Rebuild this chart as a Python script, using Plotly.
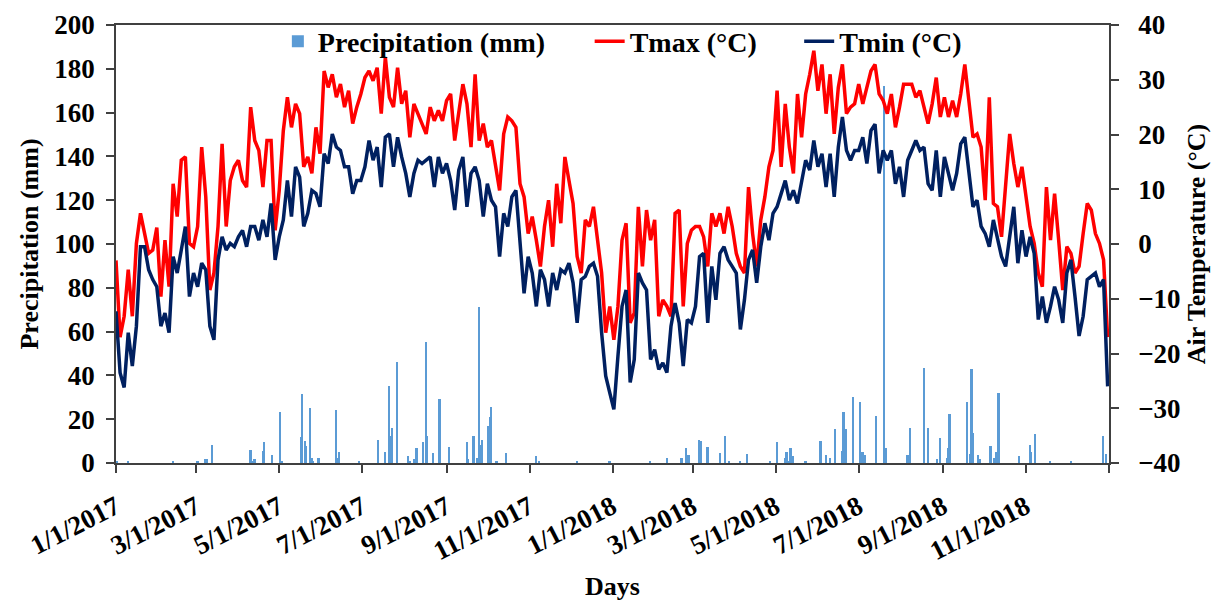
import pandas as pd
import plotly.graph_objects as go

# ---- daily air temperature, sampled every third day (°C) ----
temp_dates = pd.date_range("2017-01-01", "2018-12-31", freq="3D")

tmax = [
    -3.0, -17.0, -13.2, -4.7, -13.2, 0.1, 5.6, 1.9, -1.7, -1.1,
    3.0, -9.6, 0.7, -7.8, 11.0, 5.0, 15.3, 15.9, 0.1, -0.5,
    3.2, 17.7, 8.6, -8.4, -5.3, 3.2, 18.3, 3.2, 11.6, 14.1,
    15.3, 11.6, 10.4, 25.0, 18.9, 17.1, 10.4, 18.9, 18.9, 2.5,
    9.8, 20.7, 26.8, 21.3, 25.6, 23.8, 14.1, 15.9, 12.9, 21.3,
    16.5, 31.6, 28.6, 31.0, 26.8, 29.2, 25.0, 28.0, 22.0, 25.0,
    27.4, 30.4, 31.6, 29.8, 32.2, 23.8, 34.1, 26.8, 25.0, 32.2,
    25.6, 28.0, 19.5, 25.6, 23.8, 22.0, 20.1, 25.0, 22.5, 24.4,
    22.5, 26.2, 27.4, 18.9, 24.4, 29.2, 25.6, 17.7, 31.0, 18.9,
    22.0, 17.7, 18.9, 14.1, 9.8, 20.1, 23.2, 22.5, 21.3, 11.0,
    8.6, 1.9, 5.0, 0.7, -4.1, 3.2, 8.0, -0.5, 11.0, 3.8,
    15.9, 11.6, 7.4, -2.3, -5.3, 4.4, 3.2, 6.8, 0.1, -5.3,
    -16.2,
    -11.4, -17.5, -11.4, 0.7, 3.8, -14.4, -12.6, 6.8, -4.1, 6.2,
    0.7, 4.4, -13.2, -10.2, -11.4, -13.2, 5.6, 6.2, -11.4, 0.1,
    2.5, 3.2, 3.2, 1.3, -4.1, 5.6, 3.2, 5.6, 1.9, 6.8,
    3.2, -1.7, -4.1, -5.3, 10.4, 1.9, -4.1, 4.4, 8.6, 14.1,
    17.1, 28.0, 14.1, 25.6, 17.7, 12.9, 27.4, 19.5, 27.4, 31.0,
    35.3, 28.0, 32.8, 23.8, 31.0, 20.1, 28.6, 32.8, 23.8, 25.0,
    25.6,
    29.2, 25.6, 28.6, 31.6, 32.8, 27.4, 26.2, 23.8, 27.4, 21.3,
    25.0, 29.2, 29.2, 29.2, 26.8, 28.0, 25.0, 22.0, 25.6, 30.4,
    23.2, 26.8, 23.2, 26.2, 23.2, 27.4, 32.8, 25.6, 19.5, 20.1,
    17.7, 8.0, 26.8, 7.4, 6.8, 1.3, 11.6, 20.1, 14.7, 10.4,
    14.1, 8.0, 3.2, 0.1, -5.3, -7.8, 10.4, 0.7, 9.2, 0.7,
    -8.4, -0.5, -1.7, -5.3, -4.1, 1.9, 7.4, 6.2, 1.9, 0.1,
    -2.9, -17.0,
]

tmin = [
    -12.3, -23.5, -26.2, -16.2, -22.3, -15.0, -0.5, -0.5, -4.7, -6.5,
    -7.8, -15.0, -12.6, -16.2, -2.3, -5.3, -1.1, 3.2, -9.6, -5.3,
    -7.8, -3.5, -4.7, -15.0, -17.5, -2.9, 1.3, -1.1, 0.1, -0.5,
    1.3, 2.5, -0.5, 3.2, 3.2, 0.7, 4.4, 1.3, 7.4, -2.9,
    1.3, 4.4, 11.6, 5.0, 14.1, 12.2, 3.2, 5.6, 9.8, 9.2,
    6.8, 16.5, 14.7, 20.1, 17.7, 17.1, 14.1, 14.1, 9.2, 11.6,
    11.6, 14.1, 18.9, 15.3, 17.7, 10.4, 19.5, 20.1, 14.1, 19.5,
    15.9, 12.9, 8.6, 12.9, 15.3, 14.7, 15.3, 15.9, 10.4, 15.9,
    12.9, 14.7, 11.6, 6.2, 13.5, 15.9, 6.8, 12.9, 14.1, 11.6,
    5.0, 11.0, 8.0, 6.8, -2.3, 5.6, 3.2, 8.6, 9.8, 0.7,
    -9.0, -2.3, -5.3, -11.4, -4.7, -6.5, -11.4, -5.3, -8.4, -4.7,
    -5.3, -3.5, -7.1, -14.4, -6.5, -5.9, -4.1, -3.5, -5.9, -16.2,
    -24.1,
    -27.2, -30.2, -20.5, -11.4, -8.4, -25.3, -21.1, -5.3, -7.1, -8.4,
    -21.1, -19.3, -22.9, -21.7, -23.5, -15.0, -10.8, -14.4, -22.3, -13.8,
    -14.4, -11.4, -2.3, -1.7, -14.4, -4.1, -10.2, -1.7, -0.5, -2.9,
    -4.1, -5.3, -15.6, -10.2, -2.9, -1.1, -7.1, -0.5, 3.8, 0.7,
    5.6, 6.8, 9.2, 11.6, 8.0, 9.8, 7.4, 11.6, 15.3, 13.5,
    18.9, 14.1, 16.5, 10.4, 16.5, 8.6, 17.7, 23.2, 17.1, 15.3,
    17.1,
    17.1, 19.5, 14.7, 20.7, 21.9, 12.9, 17.1, 15.3, 17.1, 11.0,
    14.1, 8.6, 15.3, 17.1, 18.9, 17.1, 17.7, 11.0, 9.8, 17.1,
    8.6, 15.9, 12.9, 9.8, 12.9, 18.3, 19.5, 12.9, 6.8, 8.0,
    3.2, 1.9, -0.5, 4.4, 0.7, -2.3, -4.1, 1.9, 6.8, -3.5,
    2.5, -2.3, 1.3, -1.7, -13.8, -9.6, -14.4, -11.4, -7.8, -10.2,
    -14.4, -5.3, -2.9, -9.6, -16.8, -13.2, -6.5, -5.9, -5.3, -7.8,
    -6.5, -26.0,
]

# ---- rain days: day number counted from 1 Jan 2017, amount in mm ----
rain_day = [
    1, 9, 42, 60, 66, 67, 71, 99, 101, 102,
    108, 109, 115, 121, 122, 136, 137, 139, 140, 143,
    144, 145, 149, 162, 163, 164, 179, 193, 198, 201,
    202, 203, 207, 215, 216, 219, 221, 226, 228, 229,
    233, 238, 245, 258, 259, 263, 266, 267, 268, 269,
    274, 275, 276, 280, 287, 309, 311, 339,
    363, 393, 405, 416, 419, 421, 429, 430, 435, 444,
    448, 451, 459, 464, 481, 486, 492, 493, 495, 496,
    498, 507, 518, 522, 525, 529, 534, 535, 537, 542,
    547, 548, 549, 551, 559, 565, 566, 582, 584, 594,
    597, 604, 606, 611, 612, 613, 626, 628, 629, 630,
    634, 635, 643, 646, 647, 649, 664, 672, 673, 676,
    687, 702, 726, 728,
]
rain_mm = [
    1.0, 0.7, 1.0, 0.7, 2.0, 2.0, 8.2, 6.0, 1.0, 1.8,
    5.5, 9.4, 3.6, 23.5, 0.7, 12.0, 31.7, 10.0, 7.9, 25.3,
    2.3, 0.7, 2.3, 24.2, 2.3, 5.0, 0.7, 10.5, 5.0, 35.3,
    12.4, 16.2, 45.9, 3.0, 0.7, 2.0, 6.8, 9.6, 55.4, 12.2,
    4.5, 29.0, 7.1, 9.6, 2.0, 12.4, 2.3, 71.4, 8.4, 10.3,
    17.0, 20.9, 25.8, 1.0, 4.5, 3.0, 1.0, 1.0,
    1.0, 1.0, 2.3, 2.3, 6.8, 3.5, 10.3, 10.0, 7.1, 4.5,
    12.2, 0.7, 0.7, 4.1, 1.0, 9.6, 2.3, 5.0, 1.0, 6.8,
    3.0, 1.0, 10.0, 3.6, 2.3, 15.7, 5.5, 23.5, 15.7, 30.0,
    27.9, 2.0, 5.0, 3.6, 21.6, 172.0, 6.8, 3.6, 16.2, 43.3,
    16.2, 2.0, 11.4, 2.3, 6.8, 22.6, 27.9, 4.1, 42.9, 13.6,
    3.6, 2.0, 7.6, 2.3, 5.0, 32.1, 3.0, 8.2, 5.0, 13.3,
    1.0, 1.0, 12.2, 4.1,
]
rain_dates = pd.Timestamp("2017-01-01") + pd.to_timedelta(rain_day, unit="D")

# ---- date axis ticks (every second month) ----
tick_dates = [
    "2017-01-01", "2017-03-01", "2017-05-01", "2017-07-01", "2017-09-01",
    "2017-11-01", "2018-01-01", "2018-03-01", "2018-05-01", "2018-07-01",
    "2018-09-01", "2018-11-01", "2019-01-01",
]
tick_labels = [
    "1/1/2017", "3/1/2017", "5/1/2017", "7/1/2017", "9/1/2017",
    "11/1/2017", "1/1/2018", "3/1/2018", "5/1/2018", "7/1/2018",
    "9/1/2018", "11/1/2018", "",
]

FONT = "Liberation Serif"
AXIS_COLOR = "#404040"
DAY_MS = 86400000
TXT = dict(family=FONT, size=26, color="black", weight="bold")
TICK_TXT = dict(family=FONT, size=27, color="black", weight="bold")
LEG_TXT = dict(family=FONT, size=28, color="black", weight="bold")

fig = go.Figure()

fig.add_trace(go.Bar(
    x=rain_dates, y=rain_mm, name="Precipitation (mm)",
    marker=dict(color="#5B9BD5", line=dict(width=0)),
    width=DAY_MS * 1.3, yaxis="y", legend="legend", showlegend=True,
))
fig.add_trace(go.Scatter(
    x=temp_dates, y=tmax, name="Tmax (°C)", mode="lines",
    line=dict(color="#FF0000", width=3.5), yaxis="y2",
    legend="legend2", showlegend=True,
))
fig.add_trace(go.Scatter(
    x=temp_dates, y=tmin, name="Tmin (°C)", mode="lines",
    line=dict(color="#002060", width=3.5), yaxis="y2",
    legend="legend3", showlegend=True,
))

# one legend box per entry so each key sits where it belongs along the top
legend_common = dict(
    orientation="h", xref="paper", yref="paper",
    xanchor="left", yanchor="middle", y=0.962,
    bgcolor="rgba(0,0,0,0)", borderwidth=0, font=LEG_TXT,
    itemclick=False, itemdoubleclick=False,
)

fig.update_layout(
    width=1211, height=602,
    margin=dict(l=116, r=102, t=25, b=139, autoexpand=False),
    paper_bgcolor="white", plot_bgcolor="white",
    font=TXT, showlegend=True, bargap=0,
    legend=dict(legend_common, x=0.163),
    legend2=dict(legend_common, x=0.477),
    legend3=dict(legend_common, x=0.688),
    xaxis=dict(
        type="date", range=["2017-01-01", "2019-01-01"],
        tickmode="array", tickvals=tick_dates, ticktext=tick_labels,
        tickangle=-27, ticks="outside", ticklen=8, tickwidth=1.5,
        tickcolor=AXIS_COLOR, showline=True, linecolor=AXIS_COLOR,
        linewidth=1.5, mirror=True, showgrid=False, zeroline=False,
        ticklabelstandoff=8, tickfont=TICK_TXT,
        title=dict(text="Days", standoff=12, font=TXT),
    ),
    yaxis=dict(
        range=[0, 200], dtick=20, tick0=0, ticks="outside", ticklen=8,
        tickwidth=1.5, tickcolor=AXIS_COLOR, showline=True,
        linecolor=AXIS_COLOR, linewidth=1.5, showgrid=False, zeroline=False,
        ticklabelstandoff=6, tickfont=TICK_TXT,
        title=dict(text="Precipitation (mm)", standoff=8, font=TXT),
    ),
    yaxis2=dict(
        range=[-40, 40], dtick=10, tick0=-40, overlaying="y", side="right",
        ticks="outside", ticklen=8, tickwidth=1.5, tickcolor=AXIS_COLOR,
        showline=True, linecolor=AXIS_COLOR, linewidth=1.5,
        showgrid=False, zeroline=False, ticklabelstandoff=14,
        tickfont=TICK_TXT,
        title=dict(text="Air Temperature (°C)", standoff=8, font=TXT),
    ),
)

fig.write_html("out.html")
